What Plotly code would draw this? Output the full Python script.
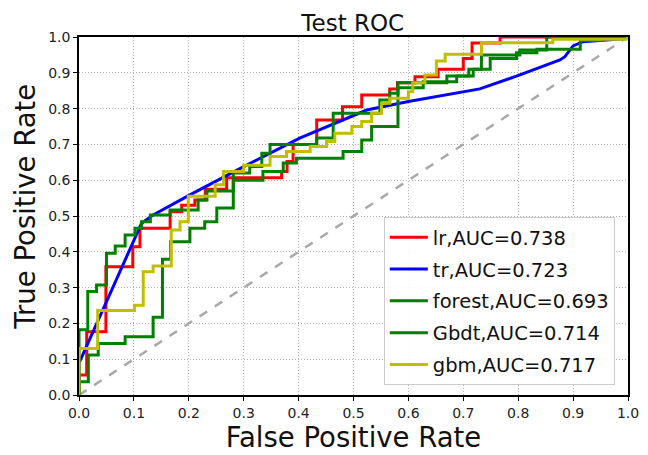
import plotly.graph_objects as go

# ---- data ----
lr_fpr = [0, 0, 0.014, 0.049, 0.098, 0.111, 0.166, 0.187, 0.211, 0.23, 0.269, 0.369, 0.379, 0.39, 0.433, 0.48, 0.515, 0.566, 0.58, 0.612, 0.654, 0.70, 0.716, 0.767, 1.0]
lr_tpr = [0, 0.056, 0.177, 0.358, 0.414, 0.466, 0.512, 0.53, 0.545, 0.575, 0.607, 0.624, 0.652, 0.70, 0.768, 0.805, 0.838, 0.855, 0.872, 0.889, 0.91, 0.94, 0.983, 1.0, 1.0]

tr_fpr = [0, 0, 0.114, 0.135, 0.202, 0.30, 0.403, 0.524, 0.60, 0.73, 0.803, 0.876, 0.885, 0.90, 0.918, 0.99, 1.0]
tr_tpr = [0, 0.089, 0.48, 0.503, 0.559, 0.638, 0.718, 0.796, 0.82, 0.855, 0.894, 0.936, 0.945, 0.975, 0.987, 0.995, 1.0]

forest_fpr = [0, 0, 0.017, 0.035, 0.084, 0.135, 0.152, 0.167, 0.202, 0.229, 0.251, 0.281, 0.335, 0.372, 0.396, 0.481, 0.515, 0.533, 0.581, 0.627, 0.688, 0.718, 0.749, 0.797, 0.834, 0.913, 0.95, 1.0]
forest_tpr = [0, 0.037, 0.112, 0.144, 0.163, 0.217, 0.379, 0.428, 0.466, 0.484, 0.522, 0.60, 0.624, 0.648, 0.661, 0.68, 0.712, 0.75, 0.858, 0.875, 0.891, 0.91, 0.94, 0.956, 0.966, 0.99, 1.0, 1.0]

gbdt_fpr = [0, 0, 0.016, 0.032, 0.05, 0.066, 0.084, 0.102, 0.114, 0.13, 0.166, 0.217, 0.233, 0.281, 0.311, 0.333, 0.348, 0.433, 0.463, 0.548, 0.566, 0.581, 0.67, 0.71, 0.733, 0.803, 0.852, 1.0]
gbdt_tpr = [0, 0.182, 0.289, 0.307, 0.396, 0.416, 0.447, 0.466, 0.484, 0.503, 0.517, 0.545, 0.57, 0.62, 0.638, 0.675, 0.70, 0.718, 0.787, 0.824, 0.843, 0.872, 0.891, 0.91, 0.95, 0.964, 1.0, 1.0]

gbm_fpr = [0, 0, 0.034, 0.101, 0.117, 0.135, 0.168, 0.184, 0.199, 0.248, 0.263, 0.30, 0.348, 0.378, 0.421, 0.451, 0.466, 0.497, 0.515, 0.533, 0.551, 0.566, 0.60, 0.608, 0.63, 0.651, 0.667, 0.733, 0.863, 1.0]
gbm_tpr = [0, 0.13, 0.236, 0.251, 0.344, 0.36, 0.461, 0.484, 0.555, 0.587, 0.624, 0.642, 0.666, 0.68, 0.694, 0.708, 0.731, 0.75, 0.764, 0.787, 0.815, 0.829, 0.847, 0.872, 0.894, 0.933, 0.952, 0.984, 0.994, 1.0]

diag = [0, 1]
ticks = [0.0, 0.1, 0.2, 0.3, 0.4, 0.5, 0.6, 0.7, 0.8, 0.9, 1.0]
tick_text = ["0.0", "0.1", "0.2", "0.3", "0.4", "0.5", "0.6", "0.7", "0.8", "0.9", "1.0"]

series = [
    ("lr,AUC=0.738", lr_fpr, lr_tpr, "#ff0000"),
    ("tr,AUC=0.723", tr_fpr, tr_tpr, "#0000ff"),
    ("forest,AUC=0.693", forest_fpr, forest_tpr, "#008000"),
    ("Gbdt,AUC=0.714", gbdt_fpr, gbdt_tpr, "#008000"),
    ("gbm,AUC=0.717", gbm_fpr, gbm_tpr, "#bfbf00"),
]

fig = go.Figure()
fig.add_trace(go.Scatter(x=diag, y=diag, mode="lines", showlegend=False,
                         line=dict(color="#a8a8a8", width=2.5, dash="dash")))
for name, xs, ys, col in series:
    shape = "linear" if name.startswith("tr") else "hv"
    fig.add_trace(go.Scatter(x=xs, y=ys, mode="lines", name=name, legendgroup=name,
                             line=dict(color=col, width=3, shape=shape)))

axis_common = dict(range=[0, 1], tickvals=ticks, ticktext=tick_text,
                   showgrid=True, gridcolor="#b0b0b0", griddash="1px,2px", gridwidth=1,
                   showline=True, linecolor="black", linewidth=1.5, mirror=True,
                   ticks="outside", ticklen=4, tickcolor="black", automargin=False,
                   tickfont=dict(size=14, color="#222"), zeroline=False)

fig.update_layout(
    width=648, height=455,
    margin=dict(l=71, r=28, t=29, b=68),
    paper_bgcolor="white", plot_bgcolor="white",
    font=dict(family="DejaVu Sans", color="#111"),
    title=dict(text="Test ROC", x=0.532, xanchor="center", y=0.968, yanchor="middle",
               font=dict(size=23, color="#111")),
    xaxis=dict(title=dict(text="False Positive Rate", font=dict(size=27.5), standoff=5), **axis_common),
    yaxis=axis_common,
    legend=dict(x=0.976, y=0.028, xanchor="right", yanchor="bottom", traceorder="grouped",
                bgcolor="rgba(255,255,255,0.9)", bordercolor="#cccccc", borderwidth=1,
                font=dict(size=19.5, color="#111"), itemwidth=38, tracegroupgap=3.5),
    annotations=[dict(text="True Positive Rate", textangle=-90, xref="paper", yref="paper",
                      x=-0.099, y=0.525, xanchor="center", yanchor="middle", showarrow=False,
                      font=dict(size=27.5, color="#111"))],
)

fig.write_html("out.html")
